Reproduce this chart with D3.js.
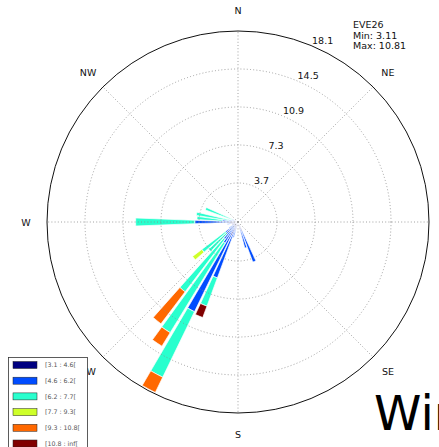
<!DOCTYPE html>
<html>
<head>
<meta charset="utf-8">
<script src="https://cdn.jsdelivr.net/npm/d3@7"></script>
<style>
  body { margin: 0; background: #fff; }
  svg { display: block; font-family: "DejaVu Sans", sans-serif; }
</style>
</head>
<body>
<svg id="chart" width="439" height="447"></svg>
<script>
// Wind rose: 64 direction sectors, stacked by wind-speed class.
const sectorCount = 64;
// sector index (0 = N, clockwise, 5.625 deg each)
const sectors   = [28, 29, 35, 36, 37, 38, 39, 40, 41, 42, 43, 44, 45, 46, 47, 48, 49, 50, 52];
// frequency per speed class, one value per sector above
const speed1 = [0.95, 0.75, 0.5, 0.75, 1.4, 0.55, 0.55, 0.5, 0.5, 0.4, 0.5, 0.6, 0.4, 0.7, 0.5, 0.95, 0.6, 0.4, 0.3];
const speed2 = [3.1, 1.8, 1.0, 4.9, 8.05, 1.8, 1.5, 1.0, 1.0, 0.6, 0, 0, 0, 0.3, 0, 3.15, 0.9, 0.5, 0.3];
const speed3 = [0, 0, 0, 2.85, 6.9, 9.95, 6.25, 2.3, 2.8, 0, 0, 0, 0, 0, 0, 5.6, 2.4, 3.1, 2.7];
const speed4 = [0, 0, 0, 0, 0, 0, 0, 0, 1.1, 0, 0, 0, 0, 0, 0, 0, 0, 0, 0];
const speed5 = [0, 0, 0, 0, 1.6, 1.5, 3.8, 0, 0, 0, 0, 0, 0, 0, 0, 0, 0, 0, 0];
const speed6 = [0, 0, 0, 1.15, 0, 0, 0, 0, 0, 0, 0, 0, 0, 0, 0, 0, 0, 0, 0];

const speedLabels = ["[3.1 : 4.6[", "[4.6 : 6.2[", "[6.2 : 7.7[", "[7.7 : 9.3[", "[9.3 : 10.8[", "[10.8 : inf["];
const speedColors = ["#000080", "#004cff", "#29ffce", "#ceff29", "#ff6800", "#800000"];
const radialTicks = [3.7, 7.3, 10.9, 14.5, 18.1];
const radialMax = 18.1;
const compassLabels = ["N", "NE", "E", "SE", "S", "SW", "W", "NW"];
const infoLines = ["EVE26", "Min: 3.11", "Max: 10.81"];
const titleText = "Wind rose";

const svg = d3.select("#chart");
const cx = 238, cy = 222, R = 191;
const r = d3.scaleLinear().domain([0, radialMax]).range([0, R]);
const step = 2 * Math.PI / sectorCount;
const opening = 0.8;

const root = svg.append("g").attr("transform", `translate(${cx},${cy})`);

// stacked bars
const series = [speed1, speed2, speed3, speed4, speed5, speed6];
const arc = d3.arc();
const segs = [];
sectors.forEach((k, i) => {
  let cum = 0;
  series.forEach((s, b) => {
    const v = s[i];
    if (v > 0) {
      segs.push({ k, b, r0: cum, r1: cum + v });
      cum += v;
    }
  });
});
root.append("g").selectAll("path").data(segs).join("path")
  .attr("d", d => arc({
    innerRadius: r(d.r0), outerRadius: r(d.r1),
    startAngle: d.k * step - step * opening / 2,
    endAngle: d.k * step + step * opening / 2
  }))
  .attr("fill", d => speedColors[d.b])
  .attr("stroke", "#fff").attr("stroke-width", 0.7);

// grid (drawn over the bars)
const grid = root.append("g").attr("fill", "none").attr("stroke", "#8a8a8a")
  .attr("stroke-width", 0.8).attr("stroke-dasharray", "1,2.2");
grid.selectAll("circle").data(radialTicks.slice(0, -1)).join("circle").attr("r", d => r(d));
grid.selectAll("line").data(d3.range(8)).join("line")
  .attr("x1", 0).attr("y1", 0)
  .attr("x2", d => R * Math.sin(d * Math.PI / 4))
  .attr("y2", d => -R * Math.cos(d * Math.PI / 4));

// outer frame
root.append("circle").attr("r", R).attr("fill", "none").attr("stroke", "#111").attr("stroke-width", 1);

// radial tick labels
const la = Math.PI / 8;
root.append("g").selectAll("text").data(radialTicks).join("text")
  .attr("x", d => r(d) * Math.sin(la) + 1)
  .attr("y", d => -r(d) * Math.cos(la) - 1.5)
  .attr("font-size", 9.5).attr("fill", "#111")
  .text(d => d.toFixed(1));

// compass labels
const lr = 212;
root.append("g").selectAll("text").data(compassLabels).join("text")
  .attr("x", (d, i) => lr * Math.sin(i * Math.PI / 4))
  .attr("y", (d, i) => -lr * Math.cos(i * Math.PI / 4))
  .attr("text-anchor", "middle").attr("dominant-baseline", "central")
  .attr("font-size", 9.5).attr("fill", "#111")
  .text(d => d);

// info block
svg.append("g").selectAll("text").data(infoLines).join("text")
  .attr("x", 353).attr("y", (d, i) => 28 + i * 10.5)
  .attr("font-size", 9.5).attr("fill", "#111")
  .text(d => d);

// legend
const lg = svg.append("g");
lg.append("rect").attr("x", 8.5).attr("y", 357.5).attr("width", 79).attr("height", 100)
  .attr("fill", "#fff").attr("stroke", "#333").attr("stroke-width", 0.8);
const rows = lg.selectAll("g").data(speedLabels).join("g")
  .attr("transform", (d, i) => `translate(0,${365 + i * 15.7})`);
rows.append("rect").attr("x", 13).attr("y", -3.5).attr("width", 24).attr("height", 7)
  .attr("fill", (d, i) => speedColors[i]).attr("stroke", "#222").attr("stroke-width", 0.5);
rows.append("text").attr("x", 45).attr("y", 2.3)
  .attr("font-size", 6.3).attr("fill", "#555").text(d => d);

// title
svg.append("text").attr("x", 374).attr("y", 430)
  .attr("font-size", 48).attr("fill", "#000").text(titleText);
</script>
</body>
</html>
